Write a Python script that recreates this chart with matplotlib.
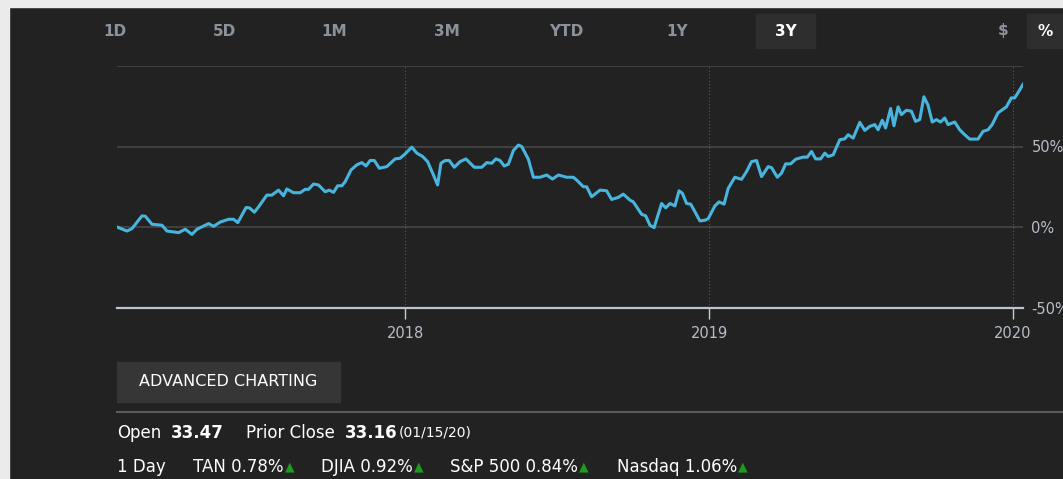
import matplotlib
matplotlib.use("Agg")
import matplotlib.pyplot as plt
import pandas as pd
from matplotlib.patches import Rectangle
from matplotlib import font_manager

# percent change
dates = [
    "2017-01-20", "2017-02-01", "2017-02-07", "2017-02-19", "2017-02-23", "2017-03-03",
    "2017-03-15", "2017-03-21", "2017-04-04", "2017-04-12", "2017-04-20", "2017-04-26",
    "2017-05-10", "2017-05-16", "2017-05-24", "2017-06-03", "2017-06-09", "2017-06-14",
    "2017-06-24", "2017-06-28", "2017-07-04", "2017-07-09", "2017-07-19", "2017-07-25",
    "2017-08-02", "2017-08-08", "2017-08-12", "2017-08-20", "2017-08-28", "2017-09-03",
    "2017-09-07", "2017-09-13", "2017-09-19", "2017-09-27", "2017-10-02", "2017-10-07",
    "2017-10-12", "2017-10-17", "2017-10-21", "2017-10-28", "2017-11-04", "2017-11-10",
    "2017-11-15", "2017-11-20", "2017-11-25", "2017-12-01", "2017-12-10", "2017-12-20",
    "2017-12-26", "2018-01-01", "2018-01-09", "2018-01-15", "2018-01-22", "2018-01-28",
    "2018-02-04", "2018-02-09", "2018-02-13", "2018-02-18", "2018-02-23", "2018-03-01",
    "2018-03-08", "2018-03-15", "2018-03-25", "2018-04-03", "2018-04-09", "2018-04-15",
    "2018-04-20", "2018-04-25", "2018-04-30", "2018-05-05", "2018-05-11", "2018-05-17",
    "2018-05-21", "2018-05-29", "2018-06-04", "2018-06-12", "2018-06-20", "2018-06-27",
    "2018-07-04", "2018-07-14", "2018-07-22", "2018-07-26", "2018-08-03", "2018-08-07",
    "2018-08-13", "2018-08-23", "2018-08-31", "2018-09-06", "2018-09-14", "2018-09-20",
    "2018-09-28", "2018-10-02", "2018-10-12", "2018-10-17", "2018-10-22", "2018-10-27",
    "2018-11-05", "2018-11-10", "2018-11-15", "2018-11-21", "2018-11-26", "2018-11-30",
    "2018-12-05", "2018-12-10", "2018-12-21", "2018-12-27", "2018-12-31", "2019-01-08",
    "2019-01-13", "2019-01-19", "2019-01-24", "2019-02-01", "2019-02-09", "2019-02-15",
    "2019-02-21", "2019-02-27", "2019-03-05", "2019-03-13", "2019-03-17", "2019-03-24",
    "2019-03-29", "2019-04-03", "2019-04-09", "2019-04-15", "2019-04-24", "2019-04-29",
    "2019-05-04", "2019-05-09", "2019-05-15", "2019-05-20", "2019-05-24", "2019-05-30",
    "2019-06-07", "2019-06-13", "2019-06-17", "2019-06-23", "2019-07-01", "2019-07-07",
    "2019-07-13", "2019-07-19", "2019-07-23", "2019-07-28", "2019-08-01", "2019-08-07",
    "2019-08-11", "2019-08-16", "2019-08-20", "2019-08-26", "2019-09-01", "2019-09-06",
    "2019-09-11", "2019-09-16", "2019-09-21", "2019-09-26", "2019-10-01", "2019-10-06",
    "2019-10-11", "2019-10-15", "2019-10-23", "2019-10-29", "2019-11-04", "2019-11-10",
    "2019-11-20", "2019-11-26", "2019-12-02", "2019-12-07", "2019-12-14", "2019-12-24",
    "2019-12-30", "2020-01-03", "2020-01-07", "2020-01-13",
]
pct = [
    0.0, -2.5, -1.0, 6.9, 6.7, 1.7,
    1.1, -2.5, -3.5, -1.4, -4.6, -1.4,
    2.1, 0.4, 3.1, 4.8, 4.8, 2.7,
    12.1, 11.9, 9.2, 12.5, 19.8, 19.8,
    22.9, 19.4, 23.6, 21.3, 21.3, 23.4,
    23.4, 26.7, 26.1, 21.9, 22.9, 21.5,
    25.6, 25.6, 28.1, 35.4, 38.6, 40.0,
    37.9, 41.3, 41.3, 36.5, 37.5, 42.3,
    42.7, 45.4, 49.6, 45.9, 43.8, 40.6,
    32.3, 26.1, 39.6, 41.3, 41.3, 37.1,
    40.6, 42.3, 37.1, 37.1, 40.0, 39.6,
    42.3, 41.3, 37.9, 39.0, 47.5, 50.9,
    50.0, 42.1, 30.9, 30.9, 32.3, 29.8,
    32.3, 30.9, 30.9, 29.2, 25.0, 25.0,
    18.8, 22.9, 22.5, 17.1, 18.4, 20.4,
    16.7, 15.6, 7.9, 6.9, 1.1, -0.4,
    14.6, 11.9, 14.6, 13.1, 22.5, 20.9,
    14.6, 14.2, 3.8, 4.2, 5.2, 13.1,
    15.6, 14.2, 24.0, 30.9, 29.6, 34.4,
    40.6, 41.3, 31.3, 37.5, 36.9, 30.9,
    33.4, 39.2, 39.2, 42.1, 43.4, 43.4,
    46.9, 42.3, 42.3, 45.9, 43.8, 44.8,
    54.2, 54.8, 57.3, 55.2, 65.0, 60.0,
    62.5, 63.6, 60.4, 66.3, 61.5, 73.6,
    62.9, 74.6, 69.8, 72.5, 71.9, 65.6,
    66.7, 80.9, 75.6, 65.2, 66.7, 65.2,
    67.7, 63.6, 65.2, 60.4, 57.3, 54.6,
    54.6, 59.4, 60.4, 63.6, 70.9, 74.6,
    80.2, 80.2, 83.4, 88.6,
]

year_ticks = ["2018-01-01", "2019-01-01", "2020-01-01"]
year_labels = ["2018", "2019", "2020"]
y_ticks = [-50, 0, 50, 100]
y_labels = ["-50%", "0%", "50%", ""]
ranges = ["1D", "5D", "1M", "3M", "YTD", "1Y", "3Y"]
range_x = [115, 224, 334, 447, 566, 677, 786]

W, H = 1063, 479
BG = "#222222"
LINE = "#47b5de"

installed = {f.name for f in font_manager.fontManager.ttflist}
narrow = "Liberation Sans Narrow" if "Liberation Sans Narrow" in installed else "DejaVu Sans"
plt.rcParams["font.family"] = [narrow, "DejaVu Sans"]


def fx(x):
    return x / W


def fy(y):
    return 1 - y / H


fig = plt.figure(figsize=(W / 100, H / 100), dpi=100, facecolor=BG)

# light page edges
fig.patches.append(Rectangle((0, fy(7)), 1, 7 / H, transform=fig.transFigure, color="#ebebeb", zorder=0))
fig.patches.append(Rectangle((0, 0), 8.5 / W, 1, transform=fig.transFigure, color="#ebebeb", zorder=0))

# range buttons
fig.patches.append(Rectangle((fx(756), fy(48)), 59 / W, 34 / H, transform=fig.transFigure, color="#2e2e2e"))
fig.patches.append(Rectangle((fx(1027), fy(48)), 36 / W, 34 / H, transform=fig.transFigure, color="#2e2e2e"))
for lab, x in zip(ranges, range_x):
    fig.text(fx(x), fy(31), lab, ha="center", va="center", fontsize=11, fontweight="bold",
             color="white" if lab == "3Y" else "#8c929b", family="DejaVu Sans")
fig.text(fx(1003), fy(31), "$", ha="center", va="center", fontsize=11, fontweight="bold",
         color="#8c929b", family="DejaVu Sans")
fig.text(fx(1045), fy(31), "%", ha="center", va="center", fontsize=11, fontweight="bold",
         color="white", family="DejaVu Sans")

# chart
ax = fig.add_axes([fx(117), fy(307.5), (1023 - 117) / W, (307.5 - 66) / H])
ax.set_facecolor(BG)
x = pd.to_datetime(dates)
ax.plot(x, pct, color=LINE, lw=2.2, solid_joinstyle="round", zorder=3)
ax.set_ylim(-50, 100)
ax.set_xlim(pd.Timestamp("2017-01-20"), pd.Timestamp("2020-01-13"))

for v in [0, 50, 100]:
    ax.axhline(v, color="#444444", lw=1.3, zorder=1)
for d in year_ticks:
    ax.axvline(pd.Timestamp(d), color="#5a5a5a", lw=0.8, ls=(0, (1, 2)), zorder=1)

for s in ["top", "left", "right"]:
    ax.spines[s].set_visible(False)
ax.spines["bottom"].set_color("#bcc4d2")
ax.spines["bottom"].set_linewidth(1.6)

ax.set_xticks(pd.to_datetime(year_ticks))
ax.set_xticklabels(year_labels)
ax.tick_params(axis="x", direction="out", length=8, width=1, color="#c8cfdb",
               labelcolor="#b8bec8", labelsize=10.5, pad=5)
ax.yaxis.tick_right()
ax.set_yticks(y_ticks)
ax.set_yticklabels(y_labels)
ax.tick_params(axis="y", length=0, pad=6, labelcolor="#b8bec8", labelsize=10.5)

# advanced charting button
fig.patches.append(Rectangle((fx(117), fy(402)), 223 / W, 40 / H, transform=fig.transFigure, color="#363636"))
fig.text(fx(228.5), fy(381), "ADVANCED CHARTING", ha="center", va="center", fontsize=11.5,
         color="white")
fig.add_artist(plt.Line2D([fx(117), 1], [fy(411.5), fy(411.5)], color="#5c5c5c", lw=1.5,
                          transform=fig.transFigure))

# quote rows
row1 = fy(433)
fig.text(fx(117), row1, "Open", va="center", fontsize=12, color="white")
fig.text(fx(171), row1, "33.47", va="center", fontsize=12, color="white", fontweight="bold")
fig.text(fx(246), row1, "Prior Close", va="center", fontsize=12, color="white")
fig.text(fx(345), row1, "33.16", va="center", fontsize=12, color="white", fontweight="bold")
fig.text(fx(399), row1, "(01/15/20)", va="center", fontsize=10, color="white")

row2 = fy(467)
movers = [("1 Day", 117, False), ("TAN 0.78%", 193, True), ("DJIA 0.92%", 321, True),
          ("S&P 500 0.84%", 450, True), ("Nasdaq 1.06%", 617, True)]
for lab, x0, up in movers:
    t = fig.text(fx(x0), row2, lab, va="center", fontsize=12, color="white")
    if up:
        fig.canvas.draw()
        bb = t.get_window_extent()
        fig.text(bb.x1 / W + 1 / W, row2, "\u25b2", va="center", fontsize=9,
                 color="#1f9a1f", family="DejaVu Sans")

fig.savefig("out.png", dpi=100, facecolor=BG)
